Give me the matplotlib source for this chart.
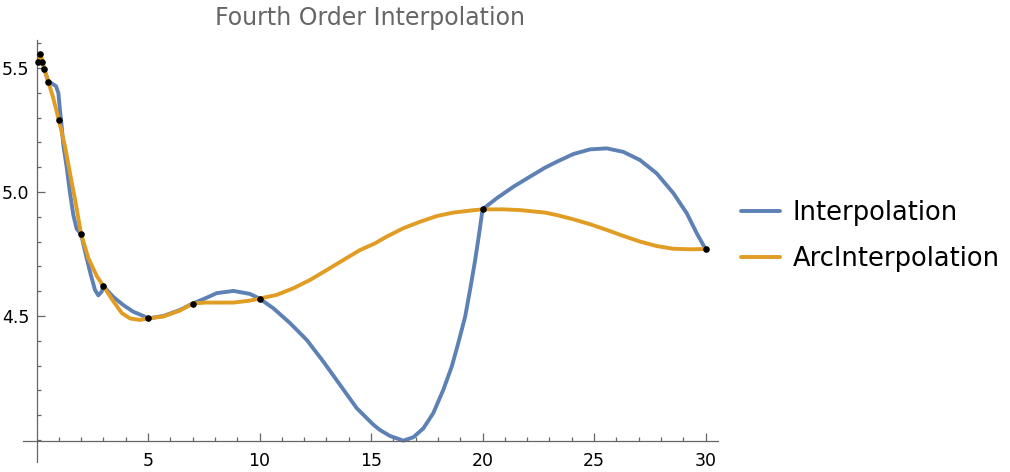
import numpy as np
import matplotlib.pyplot as plt

# Data points (black dots)
pts_x = [0.08, 0.17, 0.26, 0.34, 0.53, 1.0, 2.0, 3.0, 5.0, 7.0, 10.0, 20.0, 30.0]
pts_y = [5.525, 5.555, 5.525, 5.496, 5.445, 5.29, 4.83, 4.62, 4.49, 4.55, 4.57, 4.93, 4.77]

# Interpolation curve
interp_x = [0.08, 0.17, 0.26, 0.34, 0.53, 0.68, 0.87, 0.98, 1.05, 1.12, 1.20, 1.35,
            1.50, 1.65, 1.80, 2.0, 2.17, 2.40, 2.62, 2.77, 2.92, 3.0, 3.44, 3.89,
            4.34, 4.79, 5.0, 5.69, 6.43, 7.0, 7.56, 8.08, 8.83, 9.57, 10.0, 10.62,
            11.37, 12.12, 12.86, 13.61, 14.36, 15.10, 15.40, 15.85, 16.45, 16.90,
            17.35, 17.79, 18.24, 18.62, 18.91, 19.22, 19.44, 19.67, 19.85, 20.0,
            20.64, 21.38, 22.13, 22.80, 23.33, 24.07, 24.82, 25.57, 26.31, 27.06,
            27.81, 28.56, 29.16, 29.61, 30.0]
interp_y = [5.525, 5.555, 5.525, 5.496, 5.445, 5.438, 5.427, 5.399, 5.331, 5.270,
            5.190, 5.101, 4.996, 4.907, 4.851, 4.83, 4.762, 4.677, 4.605, 4.583,
            4.598, 4.62, 4.577, 4.544, 4.517, 4.500, 4.49, 4.500, 4.524, 4.55,
            4.571, 4.592, 4.601, 4.589, 4.57, 4.531, 4.471, 4.403, 4.316, 4.222,
            4.128, 4.062, 4.040, 4.016, 3.997, 4.011, 4.047, 4.108, 4.202, 4.296,
            4.390, 4.497, 4.605, 4.726, 4.833, 4.93, 4.975, 5.021, 5.062, 5.098,
            5.122, 5.153, 5.172, 5.176, 5.162, 5.129, 5.075, 4.995, 4.914, 4.833,
            4.77]

# ArcInterpolation curve
arc_x = [0.08, 0.17, 0.26, 0.34, 0.53, 0.75, 1.0, 1.28, 1.50, 1.73, 2.0, 2.32, 2.70,
         3.0, 3.44, 3.82, 4.19, 4.64, 5.0, 5.69, 6.43, 7.0, 7.56, 8.08, 8.83, 9.57,
         10.0, 10.77, 11.52, 12.26, 13.01, 13.76, 14.51, 15.18, 15.70, 16.45, 17.20,
         17.95, 18.69, 19.44, 20.0, 20.93, 21.68, 22.80, 23.33, 24.07, 24.82, 25.57,
         26.31, 27.06, 27.81, 28.56, 29.30, 30.0]
arc_y = [5.525, 5.555, 5.525, 5.496, 5.445, 5.378, 5.29, 5.183, 5.075, 4.968, 4.83,
         4.734, 4.661, 4.62, 4.560, 4.512, 4.490, 4.484, 4.49, 4.498, 4.522, 4.55,
         4.554, 4.554, 4.554, 4.562, 4.57, 4.585, 4.612, 4.645, 4.685, 4.726, 4.766,
         4.793, 4.820, 4.854, 4.880, 4.903, 4.917, 4.925, 4.93, 4.930, 4.927, 4.917,
         4.907, 4.890, 4.870, 4.847, 4.823, 4.800, 4.782, 4.771, 4.769, 4.77]

blue = '#5E81B5'
orange = '#E19C24'
gray = '#666666'

fig = plt.figure(figsize=(10.1, 4.72), dpi=100)
ax = fig.add_axes([0.0225, 0.0212, 0.6884, 0.894])

ax.plot(interp_x, interp_y, color=blue, linewidth=2.8, label='Interpolation',
        solid_capstyle='round', solid_joinstyle='round')
ax.plot(arc_x, arc_y, color=orange, linewidth=2.8, label='ArcInterpolation',
        solid_capstyle='round', solid_joinstyle='round')
ax.scatter(pts_x, pts_y, color='black', s=14, zorder=5)

ax.set_xlim(-0.62, 30.56)
ax.set_ylim(3.911, 5.613)

# Mathematica-like axes crossing at the origin
ax.spines['left'].set_position(('data', 0))
ax.spines['bottom'].set_position(('data', 3.995))
ax.spines['right'].set_visible(False)
ax.spines['top'].set_visible(False)
for s in ['left', 'bottom']:
    ax.spines[s].set_color(gray)
    ax.spines[s].set_linewidth(0.9)

ax.set_xticks([5, 10, 15, 20, 25, 30])
ax.set_xticks(np.arange(1, 31, 1), minor=True)
ax.set_yticks([4.5, 5.0, 5.5])
ax.set_yticks(np.arange(4.0, 5.65, 0.1), minor=True)
ax.set_yticklabels(['4.5', '5.0', '5.5'])
ax.tick_params(which='both', direction='in', color=gray, width=0.9, labelsize=12.5)
ax.tick_params(which='major', length=5.5)
ax.tick_params(which='minor', length=3.2)
ax.tick_params(axis='x', pad=8)
ax.tick_params(axis='y', pad=5)

fig.text(370 / 1010, 1 - 18 / 472, 'Fourth Order Interpolation', ha='center',
         va='center', color=gray, fontsize=17)

ax.legend(loc='center left', bbox_to_anchor=(741 / 1010, 0.5),
          bbox_transform=fig.transFigure, frameon=False, fontsize=18.5,
          handlelength=1.52, handletextpad=0.5, labelspacing=0.75,
          borderpad=0, borderaxespad=0)

fig.savefig('out.png', dpi=100)
